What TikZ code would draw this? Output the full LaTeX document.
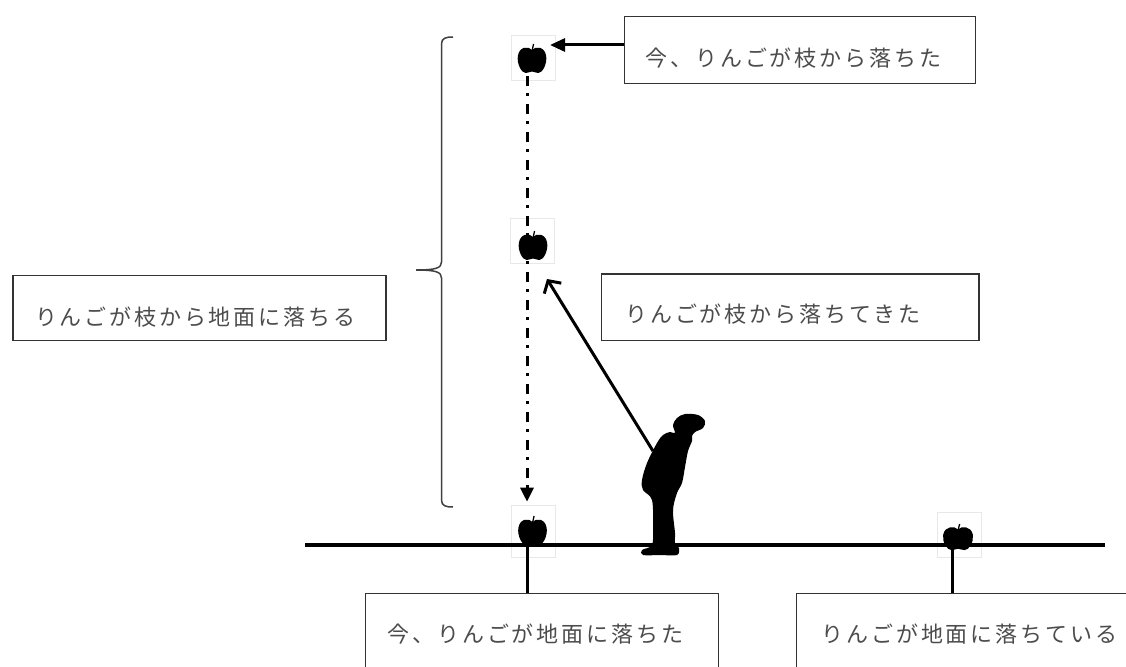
\documentclass[tikz,border=0pt]{standalone}
\usepackage{fontspec}
\newfontfamily\jpfont[LetterSpace=13]{Noto Sans CJK JP}
\usetikzlibrary{arrows.meta}

\tikzset{
  jbox/.style={draw=black!80, line width=1.4pt, inner sep=0pt, anchor=north west,
    align=left, font=\jpfont\fontsize{22}{26}\selectfont, text=black!70, text depth=0pt},
  appframe/.style={draw=black!9, line width=0.6pt, inner sep=0pt, minimum width=44pt, minimum height=45pt},
  fall/.style={line width=3pt, dash pattern=on 10pt off 7pt on 3pt off 8pt,
    -{Triangle[length=14pt,width=13pt]}},
  pointer/.style={line width=3pt, -{Triangle[length=15pt,width=13pt]}},
  gaze/.style={line width=3pt, -{Straight Barb[length=9pt,width=20pt,line width=3pt]}},
  groundline/.style={line width=4pt},
  stem/.style={line width=3pt},
  bracket/.style={draw=black!75, line width=1.5pt},
  apple/.pic={
    \fill (0,-9) .. controls (3,-13) and (12,-13) .. (13.5,-3)
      .. controls (14.5,5) and (10,14) .. (6,14)
      .. controls (3,14) and (2,12.5) .. (0,12.5)
      .. controls (-2,12.5) and (-3,14) .. (-6,14)
      .. controls (-10,14) and (-14.5,5) .. (-13.5,-3)
      .. controls (-12,-13) and (-3,-13) .. (0,-9) -- cycle;
    \draw[line width=1.3pt] (0,-8) -- (1.5,-15);
  }
}

\begin{document}
\begin{tikzpicture}[x=1pt,y=-1pt]
\useasboundingbox (0,0) rectangle (1126,666);

% text boxes
\node[jbox, minimum width=351pt, minimum height=67pt, text width=351pt, text height=31.8pt]
  (now) at (624,16) {\hspace*{21pt}今、りんごが枝から落ちた};
\node[jbox, minimum width=373pt, minimum height=65pt, text width=373pt, text height=33.8pt]
  (whole) at (12.3,275) {\hspace*{22pt}りんごが枝から地面に落ちる};
\node[jbox, minimum width=377.6pt, minimum height=66.7pt, text width=377.6pt, text height=30.4pt]
  (came) at (600.7,273.3) {\hspace*{24pt}りんごが枝から落ちてきた};
\node[jbox, minimum width=353pt, minimum height=82pt, text width=353pt, text height=15.8pt]
  (landed) at (365,592.7) {\hspace*{22pt}今、りんごが地面に落ちた};
\node[jbox, minimum width=351pt, minimum height=82pt, text width=351pt, text height=15.8pt]
  (lying) at (796,592.7) {\hspace*{25pt}りんごが地面に落ちている};

% apple frames
\node[appframe] (ap1) at (533.3,57.5) {};
\node[appframe] (ap2) at (532.5,240.5) {};
\node[appframe, minimum height=52pt] (ap3) at (533,531) {};
\node[appframe] (ap4) at (959.5,535) {};

% apples
\pic[xscale=1.05] at (532,59) {apple};
\pic[xscale=1.05] at (533,246) {apple};
\pic[xscale=1.05] at (532.5,531) {apple};
\pic[xscale=1.1, yscale=0.9] at (958,537.5) {apple};

% ground and stems to the lower boxes
\coordinate (gl) at (305,545);
\coordinate (gr) at (1105,545);
\draw[groundline] (gl) -- (gr);
\coordinate (g1) at (527,545);
\coordinate (g2) at (952,545);
\draw[stem] (g1) -- (g1 |- landed.north);
\draw[stem] (g2) -- (g2 |- lying.north);

% path of the falling apple
\coordinate (fallstart) at (527,76);
\draw[fall] (fallstart) -- ([yshift=3pt]fallstart |- ap3.north);

% pointer from the top box
\coordinate (toptip) at (550,45);
\draw[pointer] (now.west |- toptip) -- (toptip);

% person looking up
\fill plot[smooth cycle, tension=0.55] coordinates {
  (675,433) (673,425) (677,418) (685,414) (698,415) (705,421) (703,428)
  (695,432) (692,436) (692,441) (688,451) (685,467) (682,483) (677,493)
  (673,510) (675,533) (675,543) (679,548) (677,555) (660,555) (643,555)
  (642,550) (652,545) (653,527) (652,500) (643,490) (642,480) (647,463)
  (657,443) (663,435) (670,432)};

% line of sight
\coordinate (eye) at (653,451);
\coordinate (seen) at (547,279);
\draw[gaze] (eye) -- (seen);

% brace spanning the fall
\draw[bracket] (453,37) .. controls (446,37) and (441.5,38) .. (441.5,44)
  -- (441.5,262) .. controls (441.5,268) and (436,270) .. (416,270)
  .. controls (436,270) and (441.5,272) .. (441.5,278)
  -- (441.5,500) .. controls (441.5,506) and (446,507) .. (453,507);
\end{tikzpicture}
\end{document}
